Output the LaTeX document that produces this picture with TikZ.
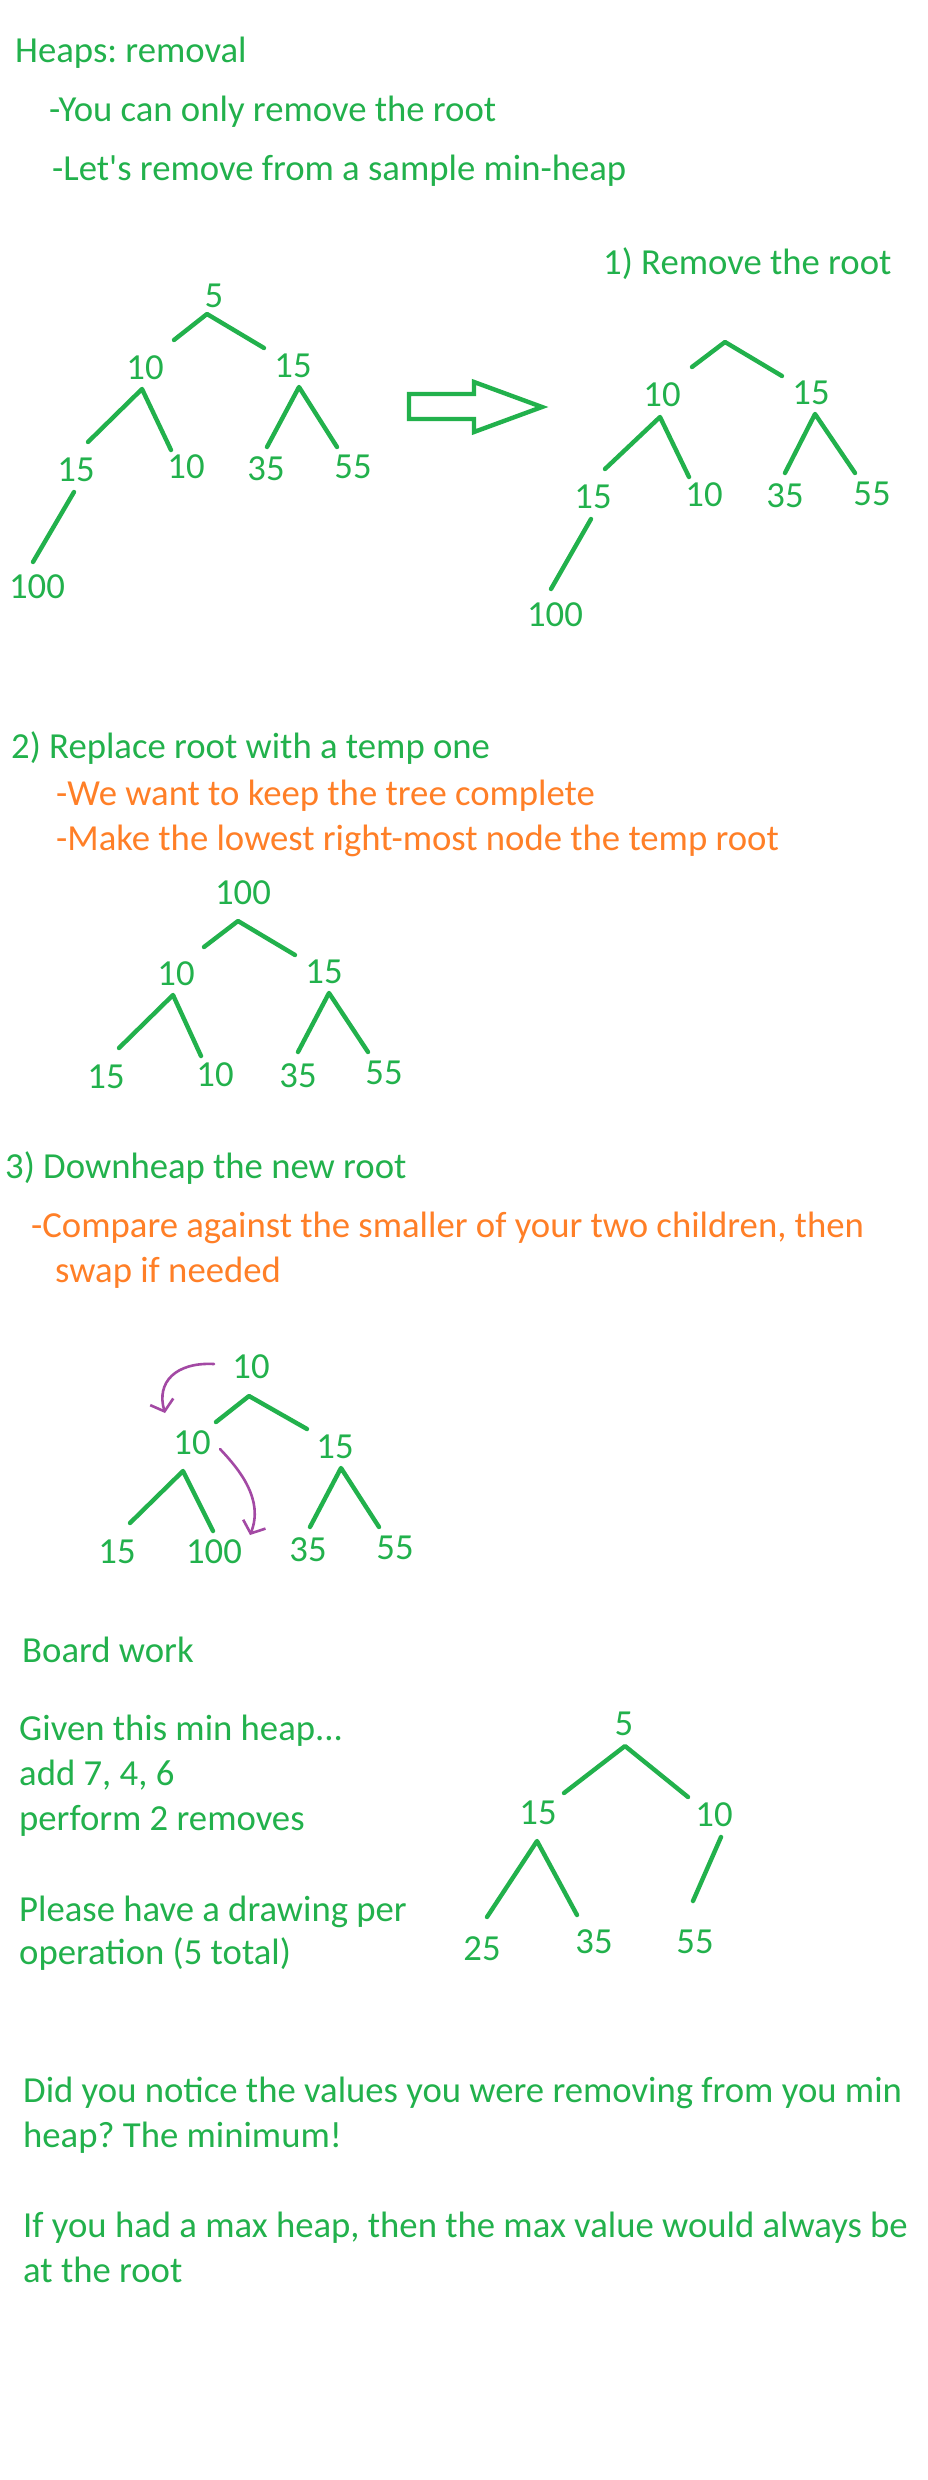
\documentclass[tikz,border=0pt]{standalone}
\usepackage{fontspec}
\setmainfont{Carlito}
\usepackage{xcolor}
\usetikzlibrary{arrows.meta}
\definecolor{pgreen}{RGB}{34,177,76}
\definecolor{porange}{RGB}{255,127,39}
\definecolor{ppurple}{RGB}{163,73,164}
\frenchspacing
\tikzset{every node/.append style={font=\fontsize{36.7}{44}\selectfont, text=pgreen, inner sep=0pt}}

\begin{document}
\begin{tikzpicture}[x=1pt, y=-1pt,
    txt/.style={anchor=base west},
    note/.style={anchor=base west, text=porange},
    num/.style={anchor=base},
    branch/.style={pgreen, line width=4.4pt, line cap=round, line join=round},
    swaparrow/.style={ppurple, line width=2.6pt, line cap=round, -{Straight Barb[length=10pt, width=24pt]}}]
    \fill[white] (0,0) rectangle (928,2480);
    \useasboundingbox (0,0) rectangle (928,2480);

    % heading
    \node[txt] (title) at (15,63) {Heaps: removal};
    \node[txt] (only) at (49,122) {-You can only remove the root};
    \node[txt] (sample) at (52,181) {-Let\textquotesingle s remove from a sample min-heap};

    % sample min-heap
    \node[num] (a1) at (214,308) {5};
    \node[num] (a2) at (145,379) {10};
    \node[num] (a3) at (293,377) {15};
    \node[num] (a4) at (76,481) {15};
    \node[num] (a5) at (186,478) {10};
    \node[num] (a6) at (266,480) {35};
    \node[num] (a7) at (353,478) {55};
    \node[num] (a8) at (37,598) {100};
    \coordinate (a1v) at (207,314); \coordinate (a2t) at (174,340); \coordinate (a3t) at (264,348);
    \coordinate (a2v) at (142,389); \coordinate (a4t) at (88,442); \coordinate (a5t) at (171,450);
    \coordinate (a3v) at (299,387); \coordinate (a6t) at (267,447); \coordinate (a7t) at (337,447);
    \coordinate (a4v) at (74,492); \coordinate (a8t) at (33,562);
    \draw[branch] (a2t) -- (a1v) -- (a3t);
    \draw[branch] (a4t) -- (a2v) -- (a5t);
    \draw[branch] (a6t) -- (a3v) -- (a7t);
    \draw[branch] (a4v) -- (a8t);

    % block arrow
    \draw[branch, line join=miter, line cap=butt] (409,394) -- (474,394) -- (474,382) -- (542,407)
        -- (474,432) -- (474,419) -- (409,419) -- cycle;

    % 1) root removed
    \node[txt] (step1) at (603,275) {1) Remove the root};
    \node[num] (b2) at (662,406) {10};
    \node[num] (b3) at (811,404) {15};
    \node[num] (b4) at (593,508) {15};
    \node[num] (b5) at (704,506) {10};
    \node[num] (b6) at (785,507) {35};
    \node[num] (b7) at (872,505) {55};
    \node[num] (b8) at (555,626) {100};
    \coordinate (b1v) at (725,342); \coordinate (b2t) at (692,367); \coordinate (b3t) at (782,376);
    \coordinate (b2v) at (660,417); \coordinate (b4t) at (605,469); \coordinate (b5t) at (689,477);
    \coordinate (b3v) at (815,414); \coordinate (b6t) at (785,473); \coordinate (b7t) at (855,473);
    \coordinate (b4v) at (591,519); \coordinate (b8t) at (551,589);
    \draw[branch] (b2t) -- (b1v) -- (b3t);
    \draw[branch] (b4t) -- (b2v) -- (b5t);
    \draw[branch] (b6t) -- (b3v) -- (b7t);
    \draw[branch] (b4v) -- (b8t);

    % 2) temp root
    \node[txt] (step2) at (11,758) {2) Replace root with a temp one};
    \node[note] (complete) at (56,805) {-We want to keep the tree complete};
    \node[note] (lowest) at (56,850) {-Make the lowest right-most node the temp root};
    \node[num] (c1) at (243,904) {100};
    \node[num] (c2) at (176,985) {10};
    \node[num] (c3) at (324,983) {15};
    \node[num] (c4) at (106,1088) {15};
    \node[num] (c5) at (215,1086) {10};
    \node[num] (c6) at (298,1087) {35};
    \node[num] (c7) at (384,1084) {55};
    \coordinate (c1v) at (238,921); \coordinate (c2t) at (204,947); \coordinate (c3t) at (295,955);
    \coordinate (c2v) at (173,995); \coordinate (c4t) at (119,1048); \coordinate (c5t) at (201,1056);
    \coordinate (c3v) at (329,993); \coordinate (c6t) at (298,1052); \coordinate (c7t) at (368,1052);
    \draw[branch] (c2t) -- (c1v) -- (c3t);
    \draw[branch] (c4t) -- (c2v) -- (c5t);
    \draw[branch] (c6t) -- (c3v) -- (c7t);

    % 3) downheap
    \node[txt] (step3) at (5,1178) {3) Downheap the new root};
    \node[note] (compare) at (31,1237) {-Compare against the smaller of your two children, then};
    \node[note] (swapif) at (55,1282) {swap if needed};
    \node[num] (d1) at (251,1378) {10};
    \node[num] (d2) at (192,1454) {10};
    \node[num] (d3) at (335,1458) {15};
    \node[num] (d4) at (117,1563) {15};
    \node[num] (d5) at (214,1563) {100};
    \node[num] (d6) at (308,1561) {35};
    \node[num] (d7) at (395,1559) {55};
    \coordinate (d1v) at (249,1396); \coordinate (d2t) at (216,1422); \coordinate (d3t) at (307,1429);
    \coordinate (d2v) at (183,1471); \coordinate (d4t) at (130,1523); \coordinate (d5t) at (213,1531);
    \coordinate (d3v) at (341,1468); \coordinate (d6t) at (310,1527); \coordinate (d7t) at (379,1527);
    \draw[branch] (d2t) -- (d1v) -- (d3t);
    \draw[branch] (d4t) -- (d2v) -- (d5t);
    \draw[branch] (d6t) -- (d3v) -- (d7t);
    \coordinate (s1) at (214,1364); \coordinate (s1e) at (165,1413);
    \coordinate (s2) at (220,1449); \coordinate (s2e) at (250,1535);
    \draw[swaparrow] (s1) .. controls (176,1362) and (156,1382) .. (s1e);
    \draw[swaparrow] (s2) .. controls (240,1470) and (264,1500) .. (s2e);

    % board work
    \node[txt] (board) at (22,1662) {Board work};
    \node[txt] (given) at (19,1740) {Given this min heap...};
    \node[txt] (add) at (19,1785) {add 7, 4, 6};
    \node[txt] (perform) at (19,1830) {perform 2 removes};
    \node[txt] (please) at (19,1921) {Please have a drawing per};
    \node[txt] (oper) at (19,1964) {operation (5 total)};
    \node[num] (e1) at (624,1735) {5};
    \node[num] (e2) at (538,1824) {15};
    \node[num] (e3) at (714,1826) {10};
    \node[num] (e4) at (482,1960) {25};
    \node[num] (e5) at (594,1953) {35};
    \node[num] (e6) at (695,1953) {55};
    \coordinate (e1v) at (625,1746); \coordinate (e2t) at (564,1793); \coordinate (e3t) at (688,1797);
    \coordinate (e2v) at (537,1841); \coordinate (e4t) at (487,1917); \coordinate (e5t) at (577,1915);
    \coordinate (e3v) at (721,1837); \coordinate (e6t) at (693,1901);
    \draw[branch] (e2t) -- (e1v) -- (e3t);
    \draw[branch] (e4t) -- (e2v) -- (e5t);
    \draw[branch] (e3v) -- (e6t);

    % closing remarks
    \node[txt] (notice) at (23,2102) {Did you notice the values you were removing from you min};
    \node[txt] (minimum) at (23,2147) {heap? The minimum!};
    \node[txt] (maxheap) at (23,2237) {If you had a max heap, then the max value would always be};
    \node[txt] (atroot) at (23,2282) {at the root};
\end{tikzpicture}
\end{document}
